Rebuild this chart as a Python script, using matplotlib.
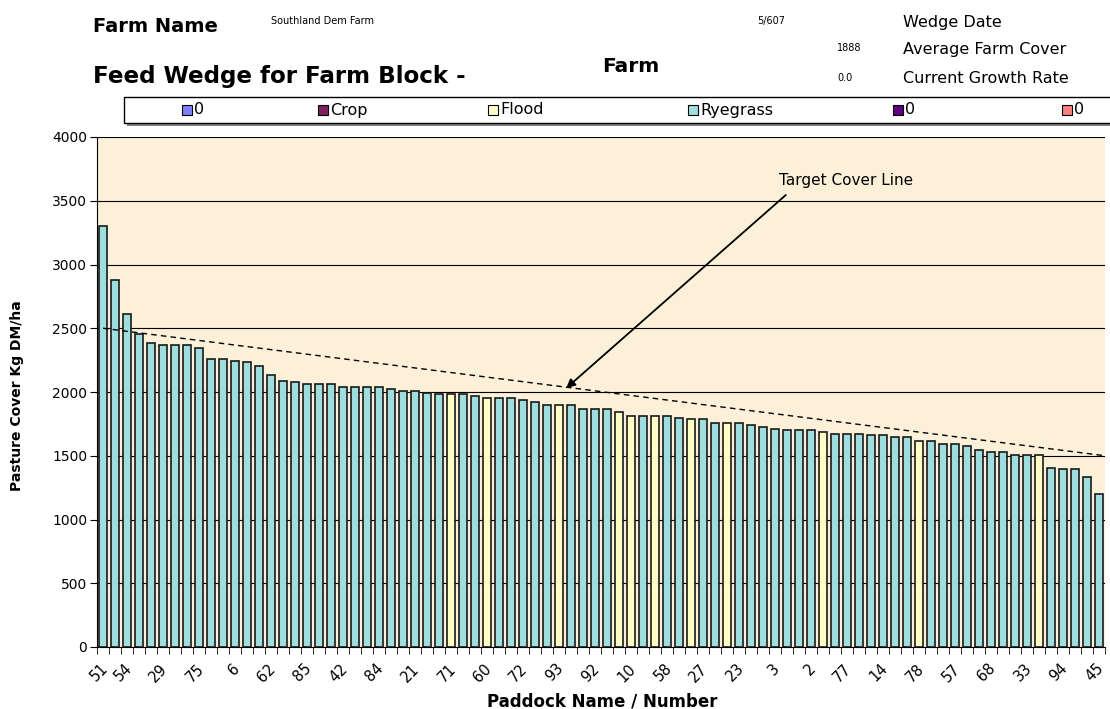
import matplotlib
matplotlib.use('Agg')
import matplotlib.pyplot as plt
from matplotlib.patches import Rectangle
from matplotlib.transforms import ScaledTranslation
import numpy as np

# ---------------- data ----------------
cover = [3300, 2880, 2610, 2455, 2385, 2370, 2370, 2370, 2345, 2260,
         2260, 2245, 2235, 2205, 2135, 2090, 2075, 2065, 2065, 2065,
         2040, 2040, 2040, 2040, 2025, 2010, 2010, 1995, 1985, 1985,
         1985, 1970, 1950, 1950, 1950, 1940, 1925, 1895, 1895, 1895,
         1870, 1870, 1870, 1845, 1812, 1812, 1812, 1812, 1795, 1786,
         1786, 1760, 1760, 1760, 1745, 1728, 1712, 1700, 1700, 1700,
         1686, 1673, 1673, 1673, 1660, 1660, 1645, 1645, 1618, 1618,
         1590, 1590, 1575, 1545, 1532, 1532, 1506, 1506, 1506, 1407,
         1393, 1393, 1336, 1197]

flood_idx = [29, 32, 38, 43, 44, 46, 49, 52, 60, 68, 78]
crop_type = ['Flood' if i in flood_idx else 'Ryegrass' for i in range(len(cover))]

paddock_labels = ['51', '', '54', '', '', '29', '', '', '75', '',
                  '', '6', '', '', '62', '', '', '85', '', '',
                  '42', '', '', '84', '', '', '21', '', '', '71',
                  '', '', '60', '', '', '72', '', '', '93', '',
                  '', '92', '', '', '10', '', '', '58', '', '',
                  '27', '', '', '23', '', '', '3', '', '', '2',
                  '', '', '77', '', '', '14', '', '', '78', '',
                  '', '57', '', '', '68', '', '', '33', '', '',
                  '94', '', '', '45']

target_start, target_end = 2500, 1500

legend_names = ['0', 'Crop', 'Flood', 'Ryegrass', '0', '0']
legend_colors = ['#8080FF', '#802060', '#FFFFCC', '#A0E0E0', '#5E0080', '#FF8080']
type_colors = {'Flood': '#FFFFC4', 'Ryegrass': '#9EDEDE'}

# ---------------- figure ----------------
W, H = 1110, 709
fig = plt.figure(figsize=(W / 100, H / 100), dpi=100)
fig.patch.set_facecolor('white')

def fx(px):
    return px / W

def fy(py):
    return 1 - py / H

ax = fig.add_axes([fx(97), fy(647), (1105 - 97) / W, (647 - 137) / H])
ax.set_facecolor('#FCF0D8')

n = len(cover)
x = np.arange(n)
ax.bar(x, cover, width=0.6, color=[type_colors[t] for t in crop_type],
       edgecolor='#1a1a1a', linewidth=1.2, zorder=3)

ax.set_xlim(-0.5, n - 0.5)
ax.set_ylim(0, 4000)
ax.set_yticks(np.arange(0, 4001, 500))
ax.yaxis.grid(True, color='black', linewidth=0.8)
ax.set_axisbelow(True)
for s in ['top', 'right']:
    ax.spines[s].set_visible(False)
ax.spines['left'].set_color('black')
ax.spines['bottom'].set_color('black')
ax.tick_params(axis='y', labelsize=10, length=5, direction='out', pad=2)

ax.set_xticks(x)
ax.set_xticklabels(paddock_labels, rotation=45, ha='right', rotation_mode='anchor',
                   fontsize=10.5)
ax.tick_params(axis='x', which='major', length=0, pad=10)
ax.set_xticks(np.arange(-0.5, n, 1), minor=True)
ax.tick_params(axis='x', which='minor', length=5, direction='out')
shift = ScaledTranslation(-0.03, 0, fig.dpi_scale_trans)
for lab in ax.get_xticklabels():
    lab.set_transform(lab.get_transform() + shift)

# target cover line
ax.plot([0, n - 0.5], [target_start, target_end], color='black', linewidth=1,
        linestyle=(0, (4, 3)), zorder=4)
ax.annotate('', xy=(38.6, 2030), xytext=(56.9, 3545),
            arrowprops=dict(arrowstyle='-|>', color='black', lw=1.3,
                            mutation_scale=13, shrinkA=0, shrinkB=0), zorder=5)
ax.text(61.9, 3655, 'Target Cover Line', ha='center', va='center', fontsize=11)

# axis titles
fig.text(fx(17), fy(396), 'Pasture Cover Kg DM/ha', rotation=90, ha='center',
         va='center', fontsize=10, fontweight='bold')
fig.text(fx(602), fy(702), 'Paddock Name / Number', ha='center', va='center',
         fontsize=12, fontweight='bold')

# header texts
fig.text(fx(93), fy(26), 'Farm Name', fontsize=14, fontweight='bold', va='center')
fig.text(fx(271), fy(21), 'Southland Dem Farm', fontsize=7, va='center')
fig.text(fx(757), fy(21), '5/607', fontsize=7, va='center')
fig.text(fx(903), fy(22.5), 'Wedge Date', fontsize=11.5, va='center')
fig.text(fx(837), fy(48), '1888', fontsize=7, va='center')
fig.text(fx(903), fy(49.5), 'Average Farm Cover', fontsize=11.5, va='center')
fig.text(fx(93), fy(76), 'Feed Wedge for Farm Block -', fontsize=16.6, fontweight='bold',
         va='center')
fig.text(fx(602), fy(67), 'Farm', fontsize=14.5, fontweight='bold', va='center')
fig.text(fx(837), fy(78), '0.0', fontsize=7, va='center')
fig.text(fx(903), fy(78.5), 'Current Growth Rate', fontsize=11.5, va='center')

# legend box
fig.patches.append(Rectangle((fx(127), fy(126)), (1115 - 127) / W, 25 / H,
                             transform=fig.transFigure, facecolor='#808080',
                             edgecolor='none', zorder=1))
fig.patches.append(Rectangle((fx(124), fy(123)), (1115 - 124) / W, 26 / H,
                             transform=fig.transFigure, facecolor='white',
                             edgecolor='black', linewidth=1, zorder=2))
leg_x = [182, 318, 488, 688, 893, 1062]
sq = 10
for lx, name, col in zip(leg_x, legend_names, legend_colors):
    fig.patches.append(Rectangle((fx(lx), fy(110 + sq / 2)), sq / W, sq / H,
                                 transform=fig.transFigure, facecolor=col,
                                 edgecolor='black', linewidth=0.8, zorder=3))
    fig.text(fx(lx + sq + 2), fy(110), name, fontsize=11.5, va='center', zorder=4)

fig.savefig('out.png', dpi=100)
